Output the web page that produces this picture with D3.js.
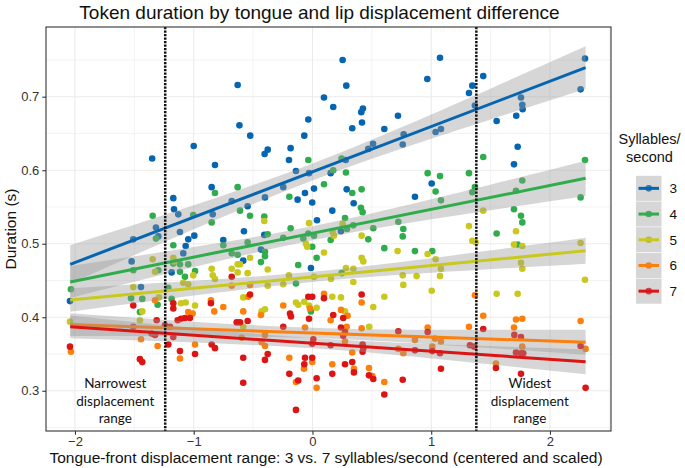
<!DOCTYPE html>
<html><head><meta charset="utf-8">
<script src="https://cdn.jsdelivr.net/npm/d3@7"></script>
<style>body{margin:0;background:#fff}svg{display:block}</style>
</head><body><svg id="c" width="685" height="468"></svg>
<script>
// ---------- data ----------
const rates = ["3", "4", "5", "6", "7"];
const rateColors = ["#0565b0", "#2fac4c", "#c9c81f", "#fd7f0c", "#dc1414"];

const pts3 = [[-0.63,0.716],[-0.615,0.661],[-1.0,0.633],[-1.35,0.616],[0.254,0.750],[0.285,0.715],[0.097,0.699],[0.175,0.686],[0.425,0.684],[0.411,0.679],[0.417,0.665],[0.335,0.657],[-0.524,0.647],[-0.035,0.669],[-0.069,0.647],[-0.184,0.630],[-0.377,0.628],[-0.403,0.622],[-0.198,0.614],[0.72,0.674],[0.605,0.656],[0.768,0.649],[0.76,0.635],[0.51,0.636],[0.47,0.629],[0.28,0.614],[1.074,0.753],[0.967,0.724],[1.438,0.728],[1.346,0.715],[1.318,0.705],[1.368,0.688],[1.756,0.699],[1.767,0.689],[1.770,0.683],[1.716,0.674],[1.551,0.667],[2.295,0.752],[2.258,0.710],[1.082,0.656],[1.037,0.652],[1.728,0.632],[-0.821,0.607],[-0.849,0.577],[-1.172,0.562],[-1.166,0.547],[-1.13,0.540],[-0.84,0.540],[-0.68,0.558],[-1.318,0.522],[-1.298,0.510],[-1.116,0.516],[-1.509,0.506],[-1.046,0.506],[-0.995,0.511],[-0.751,0.505],[-1.068,0.497],[-1.088,0.487],[-1.523,0.476],[-1.186,0.461],[-1.444,0.441],[0.153,0.596],[-0.139,0.599],[-0.029,0.596],[-0.246,0.577],[0.013,0.575],[-0.063,0.569],[-0.125,0.560],[-0.002,0.556],[0.288,0.574],[0.347,0.555],[0.167,0.545],[0.863,0.564],[-0.4,0.563],[-0.546,0.551],[0.038,0.532],[0.24,0.517],[-0.577,0.517],[-0.406,0.512],[-0.434,0.492],[-0.583,0.477],[-0.013,0.467],[1.697,0.608],[1.004,0.582],[-2.042,0.422]];

const pts4 = [[-0.035,0.614],[0.245,0.616],[1.438,0.618],[2.295,0.614],[-0.821,0.569],[-0.63,0.577],[-1.346,0.538],[-1.004,0.539],[-0.849,0.529],[-1.318,0.507],[-0.751,0.498],[-1.172,0.498],[-0.68,0.487],[-0.63,0.485],[-1.509,0.464],[-1.172,0.473],[-1.116,0.472],[-1.046,0.472],[-1.298,0.464],[-1.116,0.462],[-1.074,0.455],[-0.989,0.463],[-2.034,0.438],[-1.214,0.440],[0.175,0.600],[0.282,0.597],[0.097,0.581],[-0.195,0.564],[0.335,0.569],[0.414,0.574],[0.408,0.549],[0.422,0.543],[-0.61,0.545],[-0.526,0.538],[-0.406,0.537],[0.274,0.535],[-0.184,0.521],[0.344,0.525],[0.291,0.520],[0.512,0.521],[0.723,0.530],[0.765,0.520],[0.76,0.510],[-0.377,0.513],[-0.246,0.508],[-0.035,0.514],[0.013,0.511],[-0.077,0.507],[-0.002,0.496],[0.153,0.505],[0.47,0.506],[0.605,0.494],[0.863,0.490],[-0.546,0.502],[-0.4,0.489],[-0.4,0.483],[-0.434,0.475],[0.035,0.481],[-0.12,0.471],[0.246,0.460],[-0.139,0.446],[0.970,0.596],[1.074,0.592],[1.318,0.596],[1.368,0.577],[1.346,0.570],[1.037,0.571],[1.082,0.559],[1.767,0.586],[1.714,0.572],[2.258,0.563],[1.697,0.547],[1.756,0.538],[1.767,0.529],[1.551,0.514],[1.728,0.499],[1.009,0.490],[-1.528,0.426],[-1.433,0.425],[-1.453,0.407],[-1.304,0.417],[-1.186,0.425],[-0.013,0.408]];

const pts5 = [[-1.346,0.479],[-1.172,0.481],[-1.164,0.476],[-1.326,0.462],[-1.004,0.457],[-0.849,0.466],[-0.84,0.457],[-0.821,0.452],[-0.68,0.466],[-0.63,0.472],[-0.63,0.461],[-1.509,0.441],[-1.088,0.447],[-1.046,0.445],[-0.406,0.531],[-0.029,0.528],[0.254,0.527],[-0.055,0.500],[-0.044,0.496],[0.181,0.511],[0.17,0.516],[0.414,0.511],[0.717,0.490],[-0.526,0.481],[-0.61,0.472],[-0.377,0.465],[-0.546,0.460],[0.097,0.488],[0.414,0.481],[0.428,0.476],[0.282,0.467],[0.344,0.466],[-0.198,0.457],[0.013,0.455],[0.156,0.452],[0.344,0.448],[0.76,0.457],[0.765,0.444],[0.877,0.456],[-0.246,0.445],[-0.377,0.443],[1.438,0.545],[1.318,0.524],[1.346,0.504],[1.374,0.502],[1.714,0.517],[1.697,0.499],[1.767,0.497],[1.756,0.474],[1.767,0.466],[2.258,0.501],[2.295,0.451],[0.970,0.486],[1.037,0.479],[1.082,0.466],[1.074,0.456],[-2.042,0.394],[-1.433,0.408],[-1.453,0.396],[-1.293,0.427],[-1.107,0.419],[-1.068,0.420],[-0.989,0.416],[-0.583,0.427],[-0.428,0.408],[-0.4,0.411],[-0.583,0.387],[-0.139,0.420],[-0.12,0.417],[-0.069,0.421],[0.167,0.428],[0.24,0.427],[-0.029,0.416],[0.035,0.413],[0.274,0.408],[0.605,0.428],[0.512,0.414],[0.478,0.387],[1.004,0.436],[1.551,0.432],[1.728,0.432]];

const pts6 = [[-0.68,0.443],[-0.526,0.444],[-1.326,0.423],[-0.855,0.423],[-0.751,0.414],[-0.827,0.408],[-1.046,0.407],[-1.009,0.405],[-1.444,0.370],[-1.304,0.361],[-0.989,0.363],[-1.116,0.344],[-2.034,0.353],[-0.541,0.428],[-0.583,0.408],[-0.434,0.403],[-0.4,0.376],[-0.428,0.366],[-0.4,0.361],[-0.596,0.372],[-0.246,0.416],[0.097,0.432],[-0.021,0.412],[0.153,0.396],[0.24,0.410],[0.296,0.402],[0.414,0.420],[-0.063,0.386],[0.288,0.387],[0.414,0.385],[0.274,0.367],[0.863,0.369],[0.723,0.357],[0.765,0.351],[0.335,0.352],[-0.195,0.345],[-0.002,0.339],[-0.072,0.330],[0.349,0.330],[0.167,0.336],[-0.139,0.312],[0.035,0.304],[0.476,0.331],[0.504,0.320],[0.605,0.312],[1.368,0.430],[1.438,0.402],[1.714,0.397],[1.767,0.398],[2.258,0.395],[1.318,0.387],[0.97,0.386],[1.697,0.386],[1.032,0.371],[1.082,0.367],[1.767,0.360],[1.009,0.360],[2.3,0.357],[1.545,0.337]];

const pts7 = [[-0.68,0.455],[-1.509,0.416],[-1.172,0.419],[-1.172,0.412],[-0.855,0.419],[-1.032,0.399],[-1.074,0.399],[-1.107,0.398],[-1.135,0.396],[-1.312,0.396],[-1.242,0.389],[-1.2,0.387],[-1.354,0.378],[-1.326,0.376],[-1.172,0.373],[-1.509,0.387],[-1.214,0.363],[-1.116,0.354],[-0.989,0.350],[-0.849,0.363],[-0.821,0.358],[-2.042,0.360],[-1.453,0.343],[-1.433,0.339],[-0.638,0.393],[-0.526,0.431],[-0.61,0.393],[-0.546,0.395],[-0.583,0.345],[-0.377,0.350],[-0.4,0.342],[-0.583,0.311],[-0.035,0.428],[-0.002,0.428],[0.097,0.426],[-0.181,0.401],[-0.189,0.405],[-0.029,0.398],[0.175,0.403],[0.259,0.399],[0.414,0.431],[-0.246,0.387],[0.24,0.386],[0.274,0.380],[0.259,0.375],[0.723,0.381],[0.007,0.370],[-0.002,0.364],[0.153,0.362],[0.422,0.363],[0.428,0.358],[0.422,0.353],[0.863,0.355],[-0.063,0.345],[-0.002,0.345],[-0.069,0.336],[0.274,0.336],[0.335,0.339],[0.349,0.325],[0.167,0.323],[-0.195,0.323],[-0.12,0.314],[0.035,0.317],[0.476,0.321],[0.512,0.316],[0.76,0.315],[0.605,0.295],[-0.139,0.274],[1.438,0.384],[0.97,0.380],[1.7,0.376],[1.756,0.373],[1.326,0.362],[1.362,0.360],[1.009,0.354],[1.074,0.351],[1.714,0.352],[1.756,0.351],[1.775,0.351],[2.258,0.361],[1.545,0.331],[1.082,0.330],[1.756,0.323],[2.3,0.304]];

// fitted regression lines (value at the two ends of each group's x range)
const fitX = [-2.04, 2.3];
const fit3 = [0.472, 0.7395];
const fit4 = [0.448, 0.589];
const fit5 = [0.4234, 0.4905];
const fit6 = [0.390, 0.366];
const fit7 = [0.387, 0.3395];

// confidence bands, read at these x positions
const bandX = [-2.04, -1, 0, 1, 2.3];
const bandLo3 = [0.446, 0.5196, 0.5861, 0.6429, 0.7105];
const bandHi3 = [0.498, 0.5524, 0.6093, 0.6757, 0.7685];
const bandLo4 = [0.4263, 0.4682, 0.5047, 0.5332, 0.565];
const bandHi4 = [0.4697, 0.4954, 0.5239, 0.5604, 0.613];
const bandLo5 = [0.4074, 0.4295, 0.448, 0.4604, 0.4728];
const bandHi5 = [0.4394, 0.4495, 0.462, 0.4804, 0.5082];
const bandLo6 = [0.3745, 0.3744, 0.3717, 0.3634, 0.349];
const bandHi6 = [0.4055, 0.394, 0.3857, 0.383, 0.383];
const bandLo7 = [0.3715, 0.3658, 0.3577, 0.344, 0.3225];
const bandHi7 = [0.4025, 0.3854, 0.3717, 0.3636, 0.3565];

const xTicks = [-2, -1, 0, 1, 2];
const xMinor = [-1.5, -0.5, 0.5, 1.5, 2.5];
const yTicks = [0.3, 0.4, 0.5, 0.6, 0.7];
const yMinor = [0.25, 0.35, 0.45, 0.55, 0.65, 0.75];
const rangeCuts = [-1.24, 1.38];
const noteLeft = ["Narrowest", "displacement", "range"];
const noteRight = ["Widest", "displacement", "range"];
const noteX = [-1.66, 1.83];

const titleText = "Token duration by tongue and lip displacement difference";
const xTitle = "Tongue-front displacement range: 3 vs. 7 syllables/second (centered and scaled)";
const yTitle = "Duration (s)";
const legendTitle = ["Syllables/", "second"];

// ---------- drawing ----------
const series = [
  {pts: pts3, fit: fit3, lo: bandLo3, hi: bandHi3},
  {pts: pts4, fit: fit4, lo: bandLo4, hi: bandHi4},
  {pts: pts5, fit: fit5, lo: bandLo5, hi: bandHi5},
  {pts: pts6, fit: fit6, lo: bandLo6, hi: bandHi6},
  {pts: pts7, fit: fit7, lo: bandLo7, hi: bandHi7}
].map((s, i) => Object.assign(s, {rate: rates[i], color: rateColors[i]}));

const P = {left: 46, right: 611, top: 27, bottom: 431};
const svg = d3.select("#c");
const x = d3.scaleLinear().domain([-2.244, 2.514]).range([P.left, P.right]);
const y = d3.scaleLinear().domain([0.2453, 0.7948]).range([P.bottom, P.top]);
const font = "'Liberation Sans', Arial, Helvetica, sans-serif";

svg.append("rect").attr("width", 685).attr("height", 468).attr("fill", "#fff");

svg.append("clipPath").attr("id", "pc").append("rect")
  .attr("x", P.left).attr("y", P.top).attr("width", P.right - P.left).attr("height", P.bottom - P.top);

const g = svg.append("g").attr("clip-path", "url(#pc)");

// grid
g.selectAll(".xmin").data(xMinor).join("line")
  .attr("x1", d => x(d)).attr("x2", d => x(d)).attr("y1", P.top).attr("y2", P.bottom)
  .attr("stroke", "#ebebeb").attr("stroke-width", 0.6);
g.selectAll(".ymin").data(yMinor).join("line")
  .attr("y1", d => y(d)).attr("y2", d => y(d)).attr("x1", P.left).attr("x2", P.right)
  .attr("stroke", "#ebebeb").attr("stroke-width", 0.6);
g.selectAll(".xmaj").data(xTicks).join("line")
  .attr("x1", d => x(d)).attr("x2", d => x(d)).attr("y1", P.top).attr("y2", P.bottom)
  .attr("stroke", "#ebebeb").attr("stroke-width", 1.1);
g.selectAll(".ymaj").data(yTicks).join("line")
  .attr("y1", d => y(d)).attr("y2", d => y(d)).attr("x1", P.left).attr("x2", P.right)
  .attr("stroke", "#ebebeb").attr("stroke-width", 1.1);

// points
series.forEach(s => {
  g.append("g").selectAll("circle").data(s.pts).join("circle")
    .attr("cx", d => x(d[0])).attr("cy", d => y(d[1])).attr("r", 3.3)
    .attr("fill", s.color);
});

// smooths
const area = d3.area().x(d => x(d[0])).y0(d => y(d[1])).y1(d => y(d[2])).curve(d3.curveNatural);
const line = d3.line().x(d => x(d[0])).y(d => y(d[1]));
series.forEach(s => {
  const band = bandX.map((bx, i) => [bx, s.lo[i], s.hi[i]]);
  g.append("path").attr("d", area(band)).attr("fill", "#999999").attr("fill-opacity", 0.4);
  g.append("path").attr("d", line(fitX.map((fx, i) => [fx, s.fit[i]])))
    .attr("stroke", s.color).attr("stroke-width", 3).attr("fill", "none");
});

// range boundaries
g.selectAll(".cut").data(rangeCuts).join("line")
  .attr("x1", d => x(d)).attr("x2", d => x(d)).attr("y1", P.top).attr("y2", P.bottom)
  .attr("stroke", "#111").attr("stroke-width", 2.5).attr("stroke-dasharray", "2.2,1.3");

// notes
const noteFont = "Lato, 'Open Sans', sans-serif";
[noteLeft, noteRight].forEach((lines, k) => {
  lines.forEach((t, i) => {
    svg.append("text").attr("x", x(noteX[k])).attr("y", 388 + i * 17.5)
      .attr("text-anchor", "middle").attr("font-family", noteFont).attr("font-size", 13.5)
      .attr("fill", "#111").text(t);
  });
});

// border
svg.append("rect").attr("x", P.left).attr("y", P.top).attr("width", P.right - P.left)
  .attr("height", P.bottom - P.top).attr("fill", "none").attr("stroke", "#333").attr("stroke-width", 1.1);

// axes
const xAxis = svg.append("g").attr("transform", `translate(0,${P.bottom})`)
  .call(d3.axisBottom(x).tickValues(xTicks).tickSize(3.7).tickPadding(2.5)
    .tickFormat(d => d < 0 ? "\u2212" + Math.abs(d) : d));
const yAxis = svg.append("g").attr("transform", `translate(${P.left},0)`)
  .call(d3.axisLeft(y).tickValues(yTicks).tickSize(3.7).tickPadding(3).tickFormat(d3.format(".1f")));
[xAxis, yAxis].forEach(a => {
  a.select(".domain").remove();
  a.selectAll(".tick line").attr("stroke", "#333").attr("stroke-width", 1.1);
  a.selectAll(".tick text").attr("fill", "#333").attr("font-family", font).attr("font-size", 13);
});

// titles
svg.append("text").attr("x", 319.5).attr("y", 19).attr("text-anchor", "middle")
  .attr("font-family", font).attr("font-size", 19).attr("fill", "#111").text(titleText);
svg.append("text").attr("x", 326).attr("y", 463).attr("text-anchor", "middle")
  .attr("font-family", font).attr("font-size", 15.5).attr("fill", "#111").text(xTitle);
svg.append("text").attr("transform", `translate(16,${(P.top + P.bottom) / 2}) rotate(-90)`)
  .attr("text-anchor", "middle").attr("font-family", font).attr("font-size", 15.5)
  .attr("fill", "#111").text(yTitle);

// legend
const L = {cx: 649.5, keyX: 636, keyW: 25.5, keyTop: 175.5, keyH: 25.7};
legendTitle.forEach((t, i) => {
  svg.append("text").attr("x", L.cx).attr("y", 144 + i * 18).attr("text-anchor", "middle")
    .attr("font-family", font).attr("font-size", 14.5).attr("fill", "#111").text(t);
});
series.forEach((s, i) => {
  const ky = L.keyTop + i * L.keyH;
  const kg = svg.append("g");
  kg.append("rect").attr("x", L.keyX).attr("y", ky).attr("width", L.keyW).attr("height", L.keyH)
    .attr("fill", "#fff");
  kg.append("circle").attr("cx", L.keyX + L.keyW / 2).attr("cy", ky + L.keyH / 2).attr("r", 3.3).attr("fill", s.color);
  kg.append("rect").attr("x", L.keyX).attr("y", ky + 0.3).attr("width", L.keyW).attr("height", L.keyH - 0.6)
    .attr("fill", "#999999").attr("fill-opacity", 0.4);
  kg.append("line").attr("x1", L.keyX + 2.5).attr("x2", L.keyX + L.keyW - 2.5)
    .attr("y1", ky + L.keyH / 2).attr("y2", ky + L.keyH / 2)
    .attr("stroke", s.color).attr("stroke-width", 3);
  kg.append("text").attr("x", L.keyX + L.keyW + 8).attr("y", ky + L.keyH / 2 + 4.8)
    .attr("font-family", font).attr("font-size", 13.5).attr("fill", "#111").text(s.rate);
});
</script></body></html>
